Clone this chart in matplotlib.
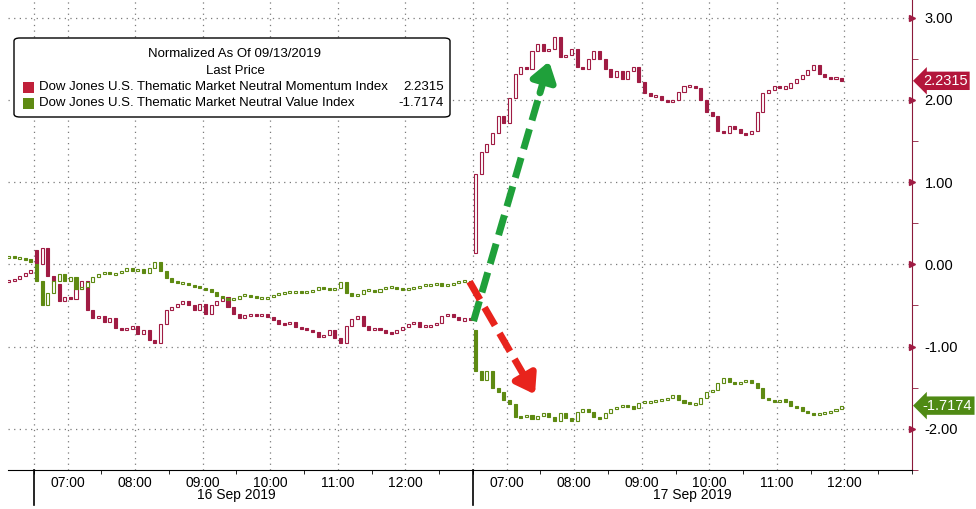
import numpy as np
import matplotlib.pyplot as plt
from matplotlib.patches import FancyBboxPatch, Rectangle
import matplotlib.transforms as mtransforms

plt.rcParams['font.family'] = ['Liberation Sans', 'DejaVu Sans']

# 5-minute closes, hours measured from 13 Sep 12:30 (Pacific)
# Momentum index (normalized)
mom_sep13 = [-0.2, -0.18, -0.14, -0.1, -0.07]
mom_sep16_open = 0.18
mom_sep16 = [0.0, 0.2, -0.14, -0.24, -0.45, -0.4, -0.42, -0.3, -0.2, -0.55, -0.65, -0.63,
             -0.7, -0.65, -0.77, -0.8, -0.78, -0.75, -0.85, -0.8, -0.92, -0.95, -0.72, -0.55,
             -0.52, -0.48, -0.45, -0.5, -0.55, -0.48, -0.6, -0.5, -0.45, -0.4, -0.52, -0.6,
             -0.65, -0.62, -0.6, -0.62, -0.6, -0.64, -0.68, -0.72, -0.73, -0.7, -0.76, -0.78,
             -0.8, -0.82, -0.88, -0.86, -0.8, -0.9, -0.95, -0.75, -0.66, -0.63, -0.75, -0.8,
             -0.78, -0.8, -0.83, -0.84, -0.8, -0.76, -0.72, -0.7, -0.76, -0.75, -0.74, -0.71,
             -0.63, -0.6, -0.64, -0.68, -0.66, -0.67]
mom_sep17_open = 0.14
mom_sep17 = [1.1, 1.37, 1.46, 1.6, 1.8, 1.72, 2.02, 2.32, 2.4, 2.38, 2.6, 2.68,
             2.6, 2.62, 2.76, 2.52, 2.55, 2.62, 2.4, 2.38, 2.5, 2.6, 2.5, 2.38,
             2.28, 2.35, 2.25, 2.35, 2.4, 2.22, 2.08, 2.05, 2.05, 2.0, 1.98, 2.0,
             2.1, 2.17, 2.17, 2.15, 2.0, 1.85, 1.8, 1.62, 1.6, 1.68, 1.65, 1.6,
             1.58, 1.62, 1.85, 2.08, 2.12, 2.17, 2.15, 2.15, 2.2, 2.25, 2.3, 2.36,
             2.42, 2.32, 2.28, 2.26, 2.27, 2.2315]

# Value index (normalized)
val_sep13 = [0.09, 0.08, 0.08, 0.06, 0.03]
val_sep16_open = 0.0
val_sep16 = [-0.2, -0.5, -0.35, -0.2, -0.12, -0.2, -0.15, -0.3, -0.28, -0.22, -0.15, -0.12,
             -0.1, -0.12, -0.11, -0.08, -0.05, -0.08, -0.06, -0.1, -0.04, 0.03, -0.08, -0.17,
             -0.21, -0.23, -0.23, -0.25, -0.27, -0.29, -0.3, -0.34, -0.38, -0.41, -0.43, -0.42,
             -0.38, -0.37, -0.39, -0.41, -0.41, -0.4, -0.37, -0.36, -0.34, -0.34, -0.33, -0.35,
             -0.33, -0.31, -0.28, -0.3, -0.31, -0.29, -0.22, -0.35, -0.38, -0.36, -0.31, -0.31,
             -0.33, -0.3, -0.28, -0.28, -0.29, -0.3, -0.3, -0.28, -0.26, -0.25, -0.25, -0.23,
             -0.26, -0.25, -0.23, -0.21, -0.2, -0.22]
val_sep17_open = -0.8
val_sep17 = [-1.3, -1.4, -1.3, -1.5, -1.55, -1.65, -1.7, -1.85, -1.86, -1.83, -1.88, -1.84,
             -1.81, -1.85, -1.9, -1.81, -1.87, -1.9, -1.8, -1.76, -1.8, -1.86, -1.87, -1.81,
             -1.76, -1.73, -1.72, -1.73, -1.75, -1.68, -1.67, -1.67, -1.66, -1.64, -1.63, -1.59,
             -1.65, -1.68, -1.7, -1.7, -1.63, -1.55, -1.53, -1.44, -1.38, -1.43, -1.45, -1.43,
             -1.4, -1.44, -1.5, -1.62, -1.65, -1.67, -1.65, -1.66, -1.72, -1.74, -1.78, -1.81,
             -1.82, -1.81, -1.8, -1.78, -1.76, -1.7174]

mom_last = 2.2315
val_last = -1.7174
mom_name = "Dow Jones U.S. Thematic Market Neutral Momentum Index"
val_name = "Dow Jones U.S. Thematic Market Neutral Value Index"
hour_labels = ["07:00", "08:00", "09:00", "10:00", "11:00", "12:00"]
day_labels = ["16 Sep 2019", "17 Sep 2019"]

red = "#A01C44"
green = "#5E8A12"
bar = 1 / 12

# session start in hours on the axis
sep13_start = 1 / 12
sep16_start = 0.5
sep17_start = 7.0


def draw_candles(ax, start, closes, first_open, color):
    t = start + (np.arange(len(closes)) + 0.5) * bar
    opens = np.array([first_open] + list(closes[:-1]))
    closes = np.array(closes)
    lo = np.minimum(opens, closes)
    hi = np.maximum(opens, closes)
    small = (hi - lo) < 0.025
    mid = (hi + lo) / 2
    lo = np.where(small, mid - 0.0125, lo)
    hi = np.where(small, mid + 0.0125, hi)
    faces = [color if c < o else "white" for o, c in zip(opens, closes)]
    ax.bar(t, hi - lo, bottom=lo, width=0.045, color=faces, edgecolor=color,
           linewidth=0.8, zorder=3)


fig = plt.figure(figsize=(9.76, 5.09), dpi=100)
ax = fig.add_axes([8 / 976, 39 / 509, 904 / 976, 470 / 509])

draw_candles(ax, sep13_start, mom_sep13, mom_sep13[0], red)
draw_candles(ax, sep16_start, mom_sep16, mom_sep16_open, red)
draw_candles(ax, sep17_start, mom_sep17, mom_sep17_open, red)
draw_candles(ax, sep13_start, val_sep13, val_sep13[0], green)
draw_candles(ax, sep16_start, val_sep16, val_sep16_open, green)
draw_candles(ax, sep17_start, val_sep17, val_sep17_open, green)

ax.set_xlim(8 / 67.6, 912 / 67.6)
ax.set_ylim(-2.381, 3.214)

# grid
hour_pos1 = [sep16_start + 0.5 + i for i in range(6)]
hour_pos2 = [sep17_start + 0.5 + i for i in range(6)]
for x in [sep16_start, sep17_start] + hour_pos1 + hour_pos2:
    ax.axvline(x, color="#7a7a7a", lw=0.9, ls=(0, (1, 3.5)), zorder=1)
for y in range(-2, 4):
    ax.axhline(y, color="#7a7a7a", lw=0.9, ls=(0, (1, 3.5)), zorder=1)

# axes styling
for s in ["top", "left"]:
    ax.spines[s].set_visible(False)
ax.spines["bottom"].set_color("black")
ax.spines["right"].set_color("#8B1A3A")

ax.set_xticks(hour_pos1 + hour_pos2)
ax.set_xticklabels(hour_labels + hour_labels, fontsize=10)
half_hours = [sep16_start + i * 0.5 for i in range(14)] + [sep17_start + i * 0.5 for i in range(14)]
ax.set_xticks(half_hours, minor=True)
ax.tick_params(axis="x", which="major", length=0, pad=4)
ax.tick_params(axis="x", which="minor", length=3, color="black")

ax.yaxis.tick_right()
ax.set_yticks(range(-2, 4))
ax.set_yticklabels([f"{v:.2f}" for v in range(-2, 4)], fontsize=10.5)
ax.set_yticks(np.arange(-2.5, 3.1, 0.5), minor=True)
ax.tick_params(axis="y", which="major", length=0, pad=9)
ax.tick_params(axis="y", which="minor", length=4, color="#8B1A3A")
trans_y = mtransforms.blended_transform_factory(ax.transAxes, ax.transData)
ax.plot([1.0] * 6, range(-2, 4), marker=">", ls="none", color="#A01C44",
        markersize=5, transform=trans_y, clip_on=False, zorder=5)

# day separators below the axis and date labels
trans_x = mtransforms.blended_transform_factory(ax.transData, ax.transAxes)
for x in [sep16_start, sep17_start]:
    ax.plot([x, x], [0, -0.075], color="black", lw=1.2, transform=trans_x, clip_on=False)
ax.text(3.5, -0.053, day_labels[0], transform=trans_x, ha="center", va="center", fontsize=10)
ax.text(10.25, -0.053, day_labels[1], transform=trans_x, ha="center", va="center", fontsize=10)

# last-price tags
ax.text(1.012, mom_last, f"{mom_last:.4f}", transform=trans_y, color="white", fontsize=10.5,
        va="center", ha="left",
        bbox=dict(boxstyle="larrow,pad=0.15", fc="#B3163B", ec="none"), clip_on=False)
ax.text(1.012, val_last, f"{val_last:.4f}", transform=trans_y, color="white", fontsize=10.5,
        va="center", ha="left",
        bbox=dict(boxstyle="larrow,pad=0.15", fc="#4F8A14", ec="none"), clip_on=False)

# dashed arrows
arrows = [((7.01, -0.69), (8.14, 2.5), "#1FA03A"),
          ((6.95, -0.21), (7.94, -1.61), "#E8231C")]
for (x0, y0), (x1, y1), c in arrows:
    xm = x0 + 0.86 * (x1 - x0)
    ym = y0 + 0.86 * (y1 - y0)
    ax.plot([x0, xm], [y0, ym], color=c, lw=5, dashes=(3, 1.3), solid_capstyle="butt",
            zorder=6)
    ax.annotate("", xy=(x1, y1), xytext=(xm, ym),
                arrowprops=dict(arrowstyle="-|>,head_width=0.75,head_length=1.1",
                                color=c, lw=5), zorder=6)

# legend box
def fx(px):
    return px / 976


def fy(py):
    return 1 - py / 509


box = FancyBboxPatch((fx(14), fy(117)), fx(436), 79 / 509, transform=fig.transFigure,
                     boxstyle="round,pad=0,rounding_size=0.006", fc="white", ec="black",
                     lw=1.0, zorder=10)
fig.patches.append(box)
fig.text(fx(235), fy(54), "Normalized As Of 09/13/2019", ha="center", va="center",
         fontsize=9.5, zorder=11)
fig.text(fx(235), fy(71), "Last Price", ha="center", va="center", fontsize=9.5, zorder=11)
for py, c, name, v in [(87, "#C0203A", mom_name, mom_last), (103, green, val_name, val_last)]:
    fig.patches.append(Rectangle((fx(23), fy(py + 6)), fx(11), 11 / 509,
                                 transform=fig.transFigure, fc=c, ec="none", zorder=11))
    fig.text(fx(39), fy(py), name, ha="left", va="center", fontsize=9.5, zorder=11)
    fig.text(fx(444), fy(py), f"{v:.4f}", ha="right", va="center", fontsize=9.5, zorder=11)

fig.savefig("out.png", dpi=100)
